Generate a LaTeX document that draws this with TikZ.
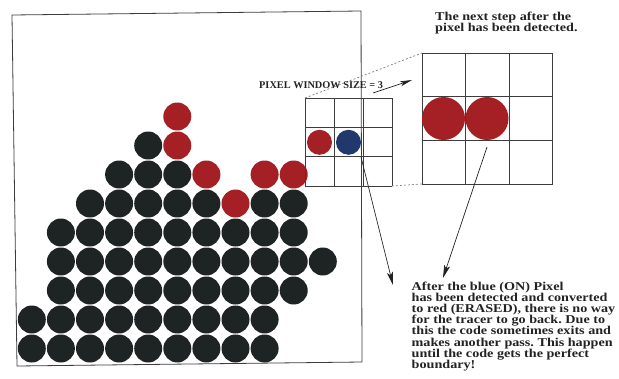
\documentclass[tikz,border=0pt]{standalone}
\usepackage{fontspec}
\setmainfont{Liberation Serif}
\newfontfamily\annot{Liberation Serif}[FakeStretch=1.18]
\newfontfamily\capsfont{Liberation Serif}
\usetikzlibrary{arrows.meta}
\definecolor{dotblack}{RGB}{30,36,36}
\definecolor{dotred}{RGB}{165,32,36}
\definecolor{dotblue}{RGB}{32,56,108}
\definecolor{ink}{RGB}{35,35,35}
\definecolor{linegray}{RGB}{60,60,60}
\frenchspacing
\begin{document}
\begin{tikzpicture}[x=1pt,y=-1pt,
  blk/.style={circle,fill=dotblack,minimum size=28pt,inner sep=0pt},
  redpx/.style={circle,fill=dotred,minimum size=28pt,inner sep=0pt},
  frame/.style={draw=linegray,line width=0.8pt},
  gridline/.style={draw=linegray,line width=0.8pt},
  dashline/.style={draw=gray,line width=0.7pt,dash pattern=on 2pt off 2pt},
  pointer/.style={draw=ink,line width=0.7pt,-{Stealth[length=13pt,width=6pt,inset=3pt]}},
  annotext/.style={inner sep=0pt,align=left,text=ink,font=\annot\bfseries\fontsize{12}{11.2}\selectfont}
]
\useasboundingbox (0,0) rectangle (619,378);
\fill[white] (0,0) rectangle (619,378);

% main frame
\draw[frame] (12,15) -- (361,11) -- (362,362) -- (17,366) -- cycle;

% pixel circles: x = 31.8 + 29.1 c, y = 348.5 - 29 r
\foreach \c in {0,...,8} \node[blk] (k0-\c) at ({31.8+29.1*\c},{348.5-29*0}) {};
\foreach \c in {0,...,8} \node[blk] (k1-\c) at ({31.8+29.1*\c},{348.5-29*1}) {};
\foreach \c in {1,...,9} \node[blk] (k2-\c) at ({31.8+29.1*\c},{348.5-29*2}) {};
\foreach \c in {1,...,10} \node[blk] (k3-\c) at ({31.8+29.1*\c},{348.5-29*3}) {};
\foreach \c in {1,...,9} \node[blk] (k4-\c) at ({31.8+29.1*\c},{348.5-29*4}) {};
\foreach \c in {2,3,4,5,6,8,9} \node[blk] (k5-\c) at ({31.8+29.1*\c},{348.5-29*5}) {};
\foreach \c in {7} \node[redpx] (k5-\c) at ({31.8+29.1*\c},{348.5-29*5}) {};
\foreach \c in {3,4,5} \node[blk] (k6-\c) at ({31.8+29.1*\c},{348.5-29*6}) {};
\foreach \c in {6,8,9} \node[redpx] (k6-\c) at ({31.8+29.1*\c},{348.5-29*6}) {};
\foreach \c in {4} \node[blk] (k7-\c) at ({31.8+29.1*\c},{348.5-29*7}) {};
\foreach \c in {5} \node[redpx] (k7-\c) at ({31.8+29.1*\c},{348.5-29*7}) {};
\foreach \c in {5} \node[redpx] (k8-\c) at ({31.8+29.1*\c},{348.5-29*8}) {};

% small pixel window
\coordinate (swtl) at (305,98);
\coordinate (swbr) at (392,186);
\foreach \x in {305,334,363,392} \draw[gridline] (\x,98) -- (\x,186);
\foreach \y in {98,127.3,156.7,186} \draw[gridline] (305,\y) -- (392,\y);
\node[circle,fill=dotred,minimum size=25pt,inner sep=0pt] (sred) at (319.5,142.3) {};
\node[circle,fill=dotblue,minimum size=25pt,inner sep=0pt] (sblue) at (348.5,142.3) {};

% big pixel window
\coordinate (bwtl) at (422,53);
\coordinate (bwbl) at (422,184);
\foreach \x in {422,465.5,509,552.5} \draw[gridline] (\x,53) -- (\x,184);
\foreach \y in {53,96.7,140.3,184} \draw[gridline] (422,\y) -- (552.5,\y);
\node[circle,fill=dotred,minimum size=43pt,inner sep=0pt] (bred1) at (443.5,118.5) {};
\node[circle,fill=dotred,minimum size=43pt,inner sep=0pt] (bred2) at (487,118.5) {};

% zoom lines
\draw[dashline] (swtl) -- (bwtl);
\draw[dashline] (swbr) -- (bwbl);

% labels
\node[anchor=base west,inner sep=0pt,text=ink,font=\capsfont\bfseries\fontsize{10.3}{12}\selectfont] (winlbl) at (259,88.5) {PIXEL WINDOW SIZE = 3};
\coordinate (wa) at (373,93);
\coordinate (wb) at (412,80);
\draw[pointer,-{Stealth[length=12pt,width=5pt,inset=3pt]}] (wa) -- (wb);

\node[annotext,anchor=north west] (toptext) at (435,11.5) {The next step after the\\pixel has been detected.};

\node[annotext,anchor=north west] (bottext) at (411.5,281.5) {After the blue (ON) Pixel\\has been detected and converted\\to red (ERASED), there is no way\\for the tracer to go back. Due to\\this the code sometimes exits and\\makes another pass. This happen\\until the code gets the perfect\\boundary!};

\coordinate (a1s) at (361,157);
\coordinate (a1e) at (393,285);
\coordinate (a2s) at (487,147);
\coordinate (a2e) at (443,278);
\draw[pointer] (a1s) -- (a1e);
\draw[pointer] (a2s) -- (a2e);
\end{tikzpicture}
\end{document}
